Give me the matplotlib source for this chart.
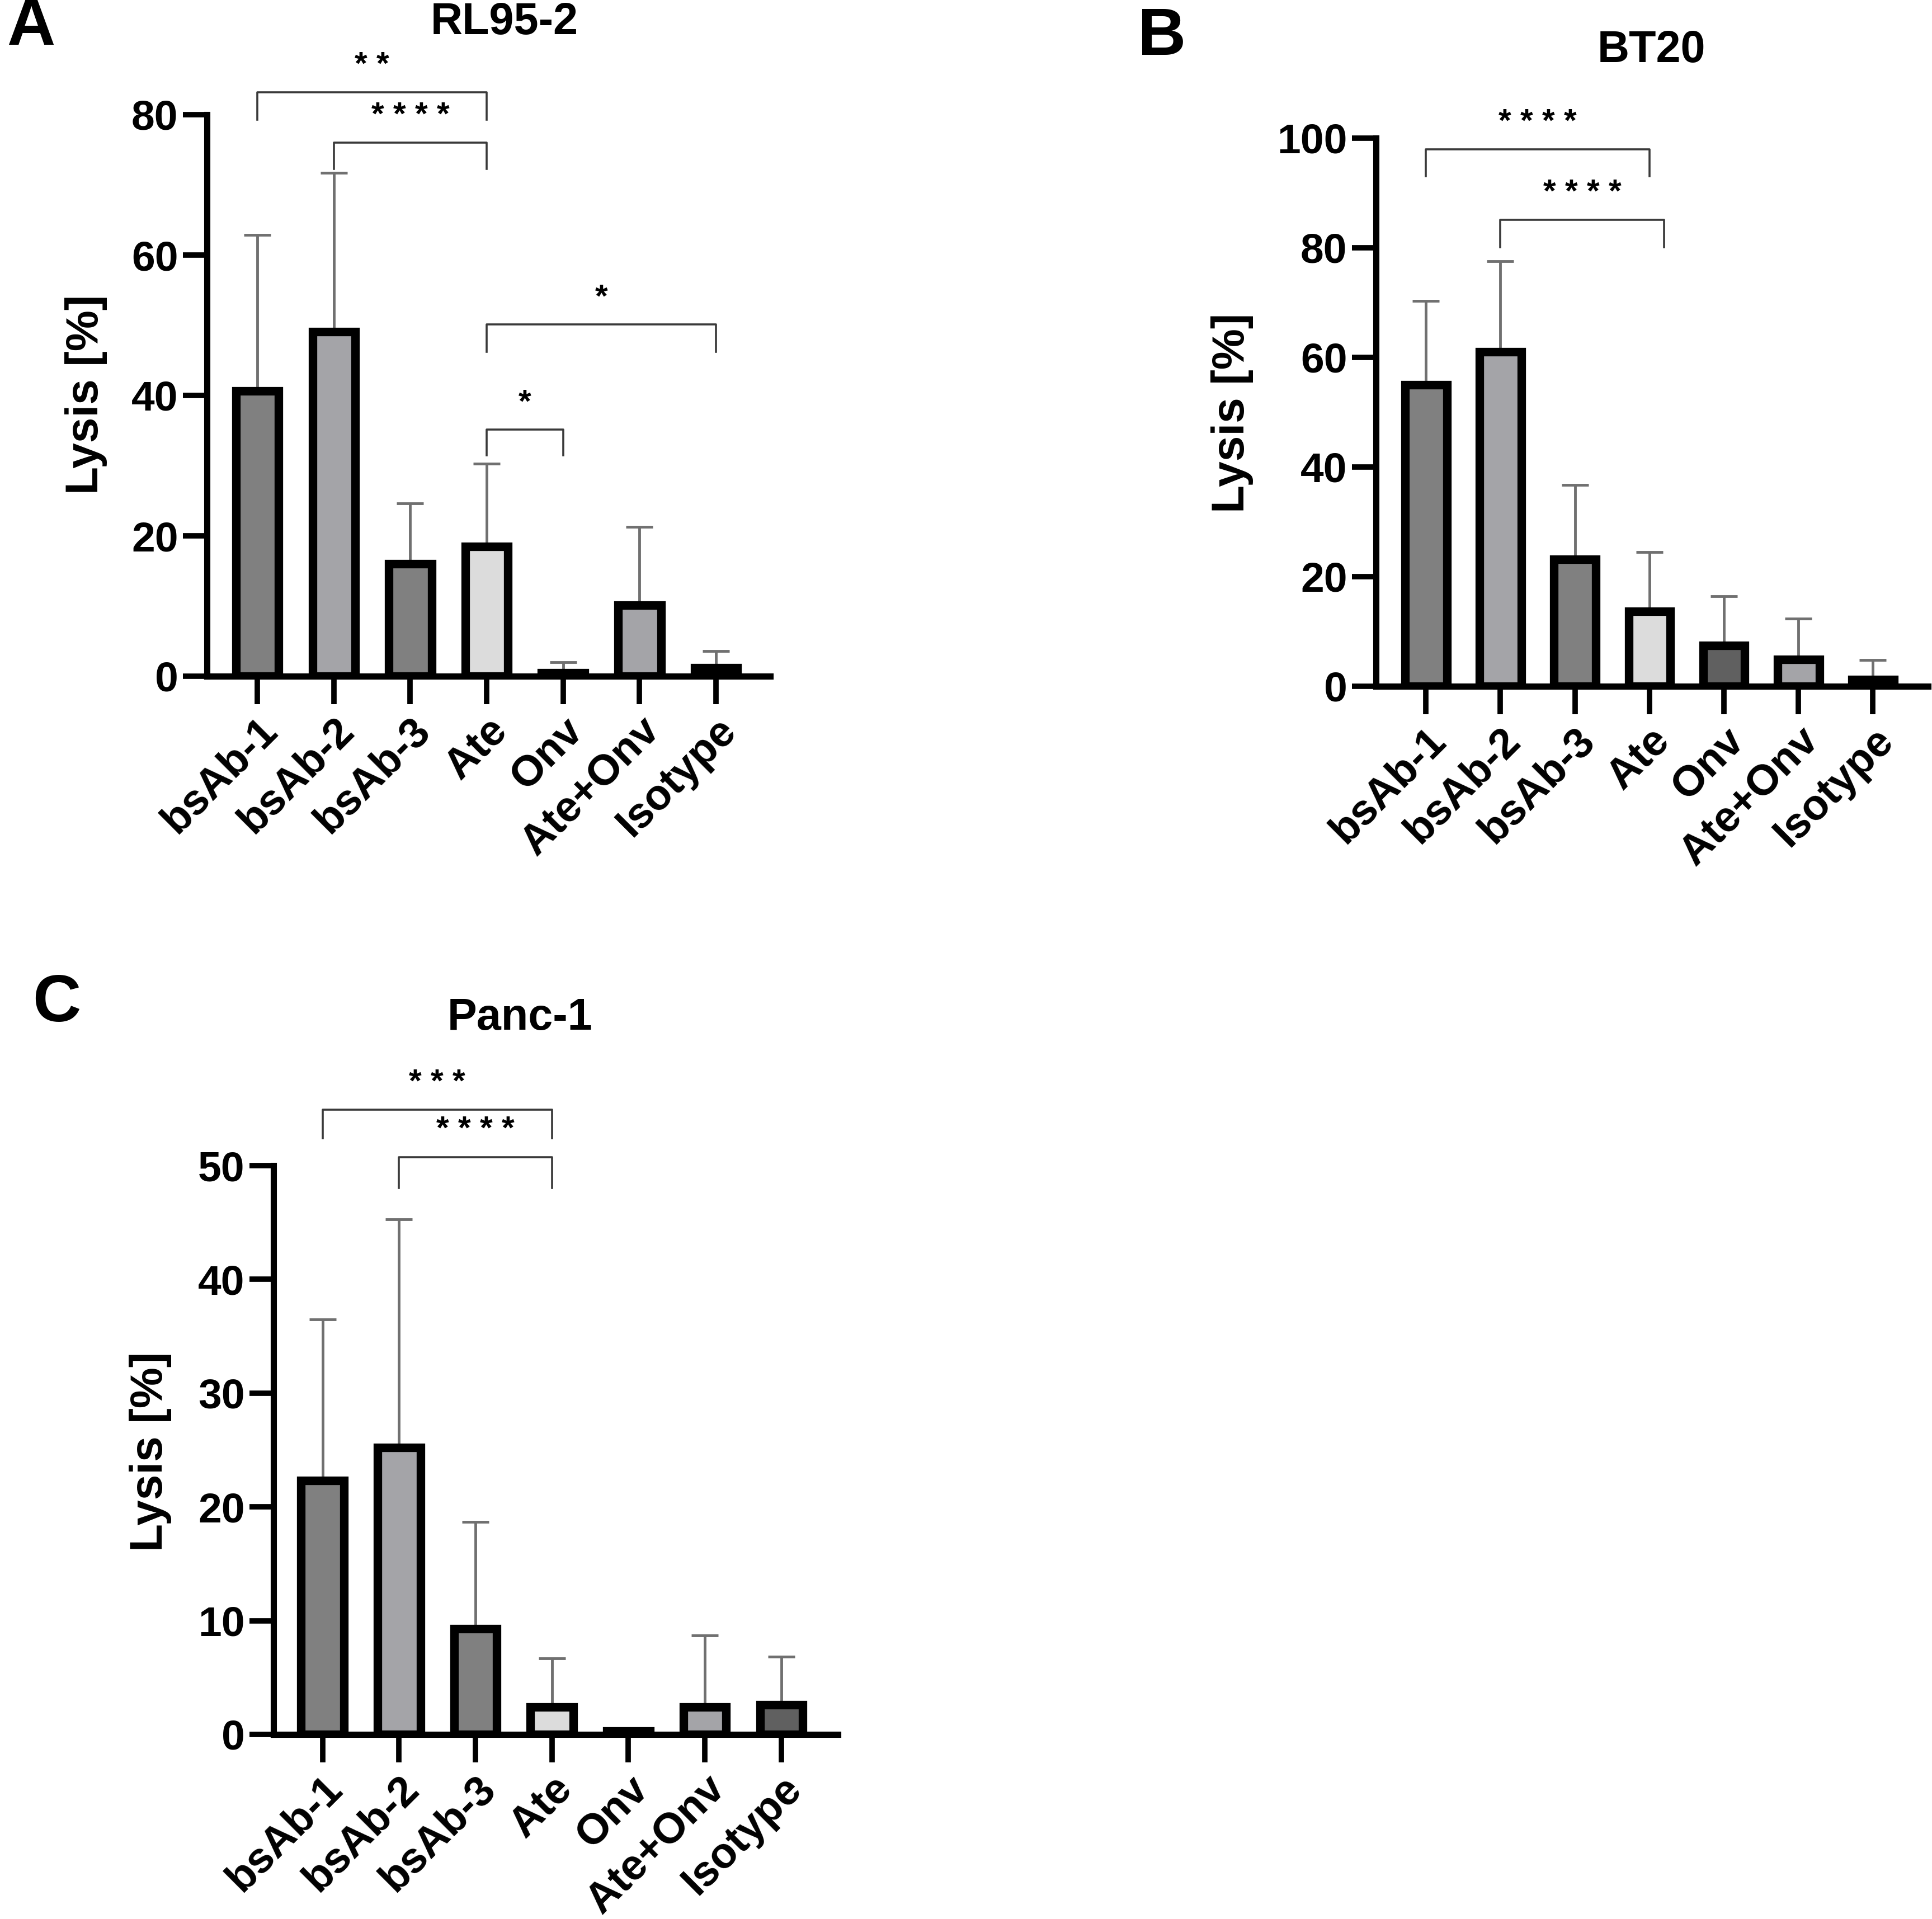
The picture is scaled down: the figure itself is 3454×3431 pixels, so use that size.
import matplotlib
matplotlib.use("Agg")
import matplotlib.pyplot as plt
import numpy as np

plt.rcParams['font.family'] = ['Liberation Sans', 'DejaVu Sans']
plt.rcParams['font.weight'] = 'bold'

categories = ['bsAb-1', 'bsAb-2', 'bsAb-3', 'Ate', 'Onv', 'Ate+Onv', 'Isotype']
bar_colors = ['#808080', '#a4a4a8', '#808080', '#dcdcdc', '#606060', '#a4a4a8', '#606060']

rl95_mean = [40.6, 49.1, 16.0, 18.5, 0.5, 10.1, 1.2]
rl95_sd = [22.3, 22.6, 8.6, 11.8, 1.5, 11.2, 2.4]

bt20_mean = [55.0, 61.0, 23.2, 13.7, 7.5, 4.9, 1.2]
bt20_sd = [15.3, 16.6, 13.5, 10.8, 8.9, 7.4, 3.6]

panc_mean = [22.3, 25.2, 9.3, 2.4, 0.3, 2.4, 2.6]
panc_sd = [14.2, 20.1, 9.4, 4.3, 0.0, 6.3, 4.25]

# significance brackets: (from category, to category, bracket height, leg drop, label)
rl95_sig = [('bsAb-1', 'Ate', 83.2, 3.9, '* *'),
            ('bsAb-2', 'Ate', 76.0, 3.7, '* * * *'),
            ('Ate', 'Isotype', 50.1, 3.9, '*'),
            ('Ate', 'Onv', 35.1, 3.6, '*')]
bt20_sig = [('bsAb-1', 'Ate', 98.0, 4.9, '* * * *'),
            ('bsAb-2', 'Ate', 85.1, 5.0, '* * * *')]
panc_sig = [('bsAb-1', 'Ate', 54.9, 2.5, '* * *'),
            ('bsAb-2', 'Ate', 50.75, 2.7, '* * * *')]

W, H = 3454, 3431
fig = plt.figure(figsize=(W / 100, H / 100), dpi=100)


def px_axes(left, right, bottom, top):
    return fig.add_axes([left / W, 1 - bottom / H, (right - left) / W, (bottom - top) / H])


def draw_panel(ax, means, sds, ymax, ystep, xlim, title, title_xy, sig, right_offsets=None):
    x = np.arange(len(categories))
    ax.errorbar(x, means, yerr=[np.zeros(len(sds)), sds], fmt='none',
                ecolor='#707070', elinewidth=3.5, capsize=17, capthick=3.5, zorder=1)
    ax.bar(x, means, width=0.56, color=bar_colors, edgecolor='black',
           linewidth=11, zorder=2)
    ax.set_xlim(*xlim)
    ax.set_ylim(0, ymax)
    ax.set_yticks(np.arange(0, ymax + 0.1, ystep))
    ax.set_xticks(x)
    ax.set_xticklabels(categories, rotation=45, ha='right', rotation_mode='anchor')
    for s in ['top', 'right']:
        ax.spines[s].set_visible(False)
    for s in ['left', 'bottom']:
        ax.spines[s].set_linewidth(8)
        ax.spines[s].set_zorder(3)
    ax.tick_params(axis='y', length=31, width=7, pad=6, labelsize=54)
    ax.tick_params(axis='x', length=36, width=7, pad=8, labelsize=55)
    for lab in ax.get_xticklabels() + ax.get_yticklabels():
        lab.set_fontweight('bold')
    ax.set_ylabel('Lysis [%]', fontsize=59, fontweight='bold', va='center')
    ax.text(title_xy[0], title_xy[1], title, transform=ax.transAxes, ha='center',
            va='center', fontsize=57, fontweight='bold')
    for i, (a, b, y, drop, lab) in enumerate(sig):
        xa = categories.index(a)
        xb = categories.index(b)
        if right_offsets is not None:
            xb = xb + right_offsets[i]
        ax.plot([xa, xa, xb, xb], [y - drop, y, y, y - drop], color='#3a3a3a',
                linewidth=2.6, clip_on=False, zorder=4)
        ax.text((xa + xb) / 2, y + ymax * 0.02, lab, ha='center', va='bottom',
                fontsize=42, fontweight='bold', clip_on=False)


axA = px_axes(370, 1377, 1209, 205)
draw_panel(axA, rl95_mean, rl95_sd, 80, 20, (-0.66, 6.71), 'RL95-2', (0.528, 1.164), rl95_sig)
axA.yaxis.set_label_coords((154 - 370) / 1007, 0.502)

axB = px_axes(2460, 3447, 1227, 247)
draw_panel(axB, bt20_mean, bt20_sd, 100, 20, (-0.67, 6.74), 'BT20', (0.499, 1.16), bt20_sig,
           right_offsets=[0.0, 0.2])
axB.yaxis.set_label_coords((2203 - 2460) / 987, 0.499)

axC = px_axes(489, 1498, 3101, 2084)
draw_panel(axC, panc_mean, panc_sd, 50, 10, (-0.64, 6.74), 'Panc-1', (0.437, 1.259), panc_sig)
axC.yaxis.set_label_coords((269 - 489) / 1009, 0.4975)

for letter, (px, py) in zip(['A', 'B', 'C'], [(55, 49), (2077, 68), (101, 1795)]):
    fig.text(px / W, 1 - py / H, letter, ha='center', va='center', fontsize=86, fontweight='bold')

fig.savefig('out.png', dpi=100, facecolor='white')
